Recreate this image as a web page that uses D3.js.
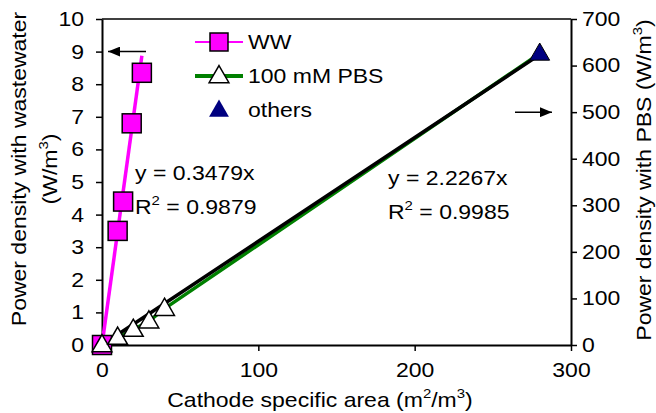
<!DOCTYPE html>
<html>
<head>
<meta charset="utf-8">
<script src="https://cdn.jsdelivr.net/npm/d3@7"></script>
<style>
  body { margin: 0; background: #fff; }
  svg { font-family: "Liberation Sans", Arial, sans-serif; }
</style>
</head>
<body>
<svg width="656" height="413"></svg>
<script>
// WW series (left axis, W/m3)
const wwArea = [0, 10, 13.5, 19, 25.5];
const wwPower = [0, 3.5, 4.4, 6.8, 8.35];
// 100 mM PBS series (right axis, W/m3)
const pbsArea = [0, 10, 20, 30, 40];
const pbsPower = [0, 16, 33, 51, 78];
// others
const otherArea = [280];
const otherPower = [626];
// trendline slopes
const wwSlope = 0.3479;
const pbsSlope = 2.2267;
const xTicks = [0, 100, 200, 300];
const yLeftTicks = d3.range(0, 11);
const yRightTicks = d3.range(0, 701, 100);

const svg = d3.select("svg");
const pLeft = 102, pRight = 571, pTop = 19, pBottom = 345;
const fs = 20, wide = 1.15;

const x = d3.scaleLinear().domain([0, 300]).range([pLeft, pRight]);
const yL = d3.scaleLinear().domain([0, 10]).range([pBottom, pTop]);
const yR = d3.scaleLinear().domain([0, 700]).range([pBottom, pTop]);

// the type in the picture runs wider than Arial, so stretch it along the line
function stretch(sel, rot) {
  sel.each(function() {
    const t = d3.select(this);
    const tx = +t.attr("x") || 0, ty = +t.attr("y") || 0;
    t.attr("x", 0).attr("y", 0)
      .attr("transform", `translate(${tx},${ty}) rotate(${rot || 0}) scale(${wide},1)`);
  });
}

// frame
svg.append("line").attr("x1", pLeft).attr("x2", pRight).attr("y1", pTop).attr("y2", pTop)
  .attr("stroke", "#000").attr("stroke-width", 1.5);

const axisStyle = g => {
  g.select(".domain").attr("stroke-width", 2);
  g.selectAll(".tick line").attr("stroke-width", 1.5);
  g.selectAll("text").attr("font-size", fs).attr("font-family", "Liberation Sans, Arial, sans-serif").attr("fill", "#000");
  stretch(g.selectAll("text"));
};

svg.append("g").attr("transform", `translate(0,${pBottom})`)
  .call(d3.axisBottom(x).tickValues(xTicks).tickSize(6).tickSizeOuter(0).tickPadding(12))
  .call(axisStyle);
svg.append("g").attr("transform", `translate(${pLeft},0)`)
  .call(d3.axisLeft(yL).tickValues(yLeftTicks).tickSize(6).tickSizeOuter(0).tickPadding(12))
  .call(axisStyle);
svg.append("g").attr("transform", `translate(${pRight},0)`)
  .call(d3.axisRight(yR).tickValues(yRightTicks).tickSize(6).tickSizeOuter(0).tickPadding(5))
  .call(axisStyle);

// PBS data line (green) through PBS points and the other point
const pbsPts = pbsArea.map((a, i) => [a, pbsPower[i]]).concat(otherArea.map((a, i) => [a, otherPower[i]]));
svg.append("path")
  .attr("d", d3.line().x(d => x(d[0])).y(d => yR(d[1]))(pbsPts))
  .attr("fill", "none").attr("stroke", "#008000").attr("stroke-width", 3.5);

// PBS trendline
const pbsMax = d3.max(pbsPts, d => d[0]);
svg.append("path")
  .attr("d", d3.line().x(d => x(d)).y(d => yR(pbsSlope * d))([0, pbsMax]))
  .attr("fill", "none").attr("stroke", "#000").attr("stroke-width", 3.5).attr("stroke-linecap", "round");

// WW trendline
const wwMax = d3.max(wwArea);
svg.append("path")
  .attr("d", d3.line().x(d => x(d)).y(d => yL(wwSlope * d))([0, wwMax]))
  .attr("fill", "none").attr("stroke", "#ff00ff").attr("stroke-width", 3.5);

const tri = d3.symbol().type(d3.symbolTriangle).size(170);
const sq = 19;

// WW markers
svg.selectAll("rect.ww").data(wwArea).enter().append("rect")
  .attr("class", "ww")
  .attr("x", d => x(d) - sq / 2)
  .attr("y", (d, i) => yL(wwPower[i]) - sq / 2)
  .attr("width", sq).attr("height", sq)
  .attr("fill", "#ff00ff").attr("stroke", "#000").attr("stroke-width", 1.5);

// PBS markers
svg.selectAll("path.pbs").data(pbsArea).enter().append("path")
  .attr("class", "pbs")
  .attr("d", tri)
  .attr("transform", (d, i) => `translate(${x(d)},${yR(pbsPower[i]) + 1})`)
  .attr("fill", "#fff").attr("stroke", "#000").attr("stroke-width", 1.5);

// others markers
svg.selectAll("path.other").data(otherArea).enter().append("path")
  .attr("class", "other")
  .attr("d", tri)
  .attr("transform", (d, i) => `translate(${x(d)},${yR(otherPower[i]) + 1})`)
  .attr("fill", "#000080").attr("stroke", "#000").attr("stroke-width", 1);

// legend
const lg = svg.append("g").attr("font-size", fs);
const rows = [
  { label: "WW", y: 42 },
  { label: "100 mM PBS", y: 76 },
  { label: "others", y: 110 }
];
lg.append("line").attr("x1", 195).attr("x2", 243).attr("y1", rows[0].y).attr("y2", rows[0].y)
  .attr("stroke", "#ff00ff").attr("stroke-width", 2);
lg.append("rect").attr("x", 219 - 9).attr("y", rows[0].y - 9).attr("width", 18).attr("height", 18)
  .attr("fill", "#ff00ff").attr("stroke", "#000").attr("stroke-width", 1.5);
lg.append("line").attr("x1", 195).attr("x2", 243).attr("y1", rows[1].y).attr("y2", rows[1].y)
  .attr("stroke", "#008000").attr("stroke-width", 4);
lg.append("path").attr("d", tri).attr("transform", `translate(219,${rows[1].y + 1})`)
  .attr("fill", "#fff").attr("stroke", "#000").attr("stroke-width", 1.5);
lg.append("path").attr("d", tri).attr("transform", `translate(219,${rows[2].y + 1})`)
  .attr("fill", "#000080").attr("stroke", "none");
lg.selectAll("text").data(rows).enter().append("text")
  .attr("x", 248).attr("y", d => d.y).attr("dy", "0.36em").text(d => d.label)
  .call(stretch);

// arrows
svg.append("defs").append("marker")
  .attr("id", "ah").attr("viewBox", "0 0 12 10").attr("refX", 12).attr("refY", 5)
  .attr("markerWidth", 12).attr("markerHeight", 10).attr("markerUnits", "userSpaceOnUse").attr("orient", "auto")
  .append("path").attr("d", "M0,0L12,5L0,10z").attr("fill", "#000");
svg.append("line").attr("x1", 146).attr("x2", 108).attr("y1", yL(9)).attr("y2", yL(9))
  .attr("stroke", "#000").attr("stroke-width", 1.5).attr("marker-end", "url(#ah)");
svg.append("line").attr("x1", 515).attr("x2", 552).attr("y1", yR(500)).attr("y2", yR(500))
  .attr("stroke", "#000").attr("stroke-width", 1.5).attr("marker-end", "url(#ah)");

// text with superscripts: plain strings stay on the baseline, {s} is raised
function sup(t, parts) {
  let back = 0;
  parts.forEach(p => {
    if (p.s) {
      t.append("tspan").attr("font-size", 13).attr("dy", -9).text(p.s);
      back = 9;
    } else {
      t.append("tspan").attr("dy", back).text(p);
      back = 0;
    }
  });
  return t;
}

// equations
function eq(px, py, slope, r2) {
  svg.append("text").attr("x", px).attr("y", py).attr("font-size", fs).text(`y = ${slope}x`).call(stretch);
  sup(svg.append("text").attr("x", px).attr("y", py + 34).attr("font-size", fs), ["R", { s: "2" }, ` = ${r2}`])
    .call(stretch);
}
eq(135, 180, "0.3479", "0.9879");
eq(388, 185, "2.2267", "0.9985");

// axis titles
svg.append("text").attr("x", 26).attr("y", 169).attr("text-anchor", "middle").attr("font-size", fs)
  .text("Power density with wastewater").call(stretch, -90);
sup(svg.append("text").attr("x", 57).attr("y", 169).attr("text-anchor", "middle").attr("font-size", fs),
  ["(W/m", { s: "3" }, ")"]).call(stretch, -90);
sup(svg.append("text").attr("x", 651).attr("y", 180).attr("text-anchor", "middle").attr("font-size", fs),
  ["Power density with PBS (W/m", { s: "3" }, ")"]).call(stretch, -90);
sup(svg.append("text").attr("x", 320).attr("y", 407).attr("text-anchor", "middle").attr("font-size", fs),
  ["Cathode specific area (m", { s: "2" }, "/m", { s: "3" }, ")"]).call(stretch);
</script>
</body>
</html>
